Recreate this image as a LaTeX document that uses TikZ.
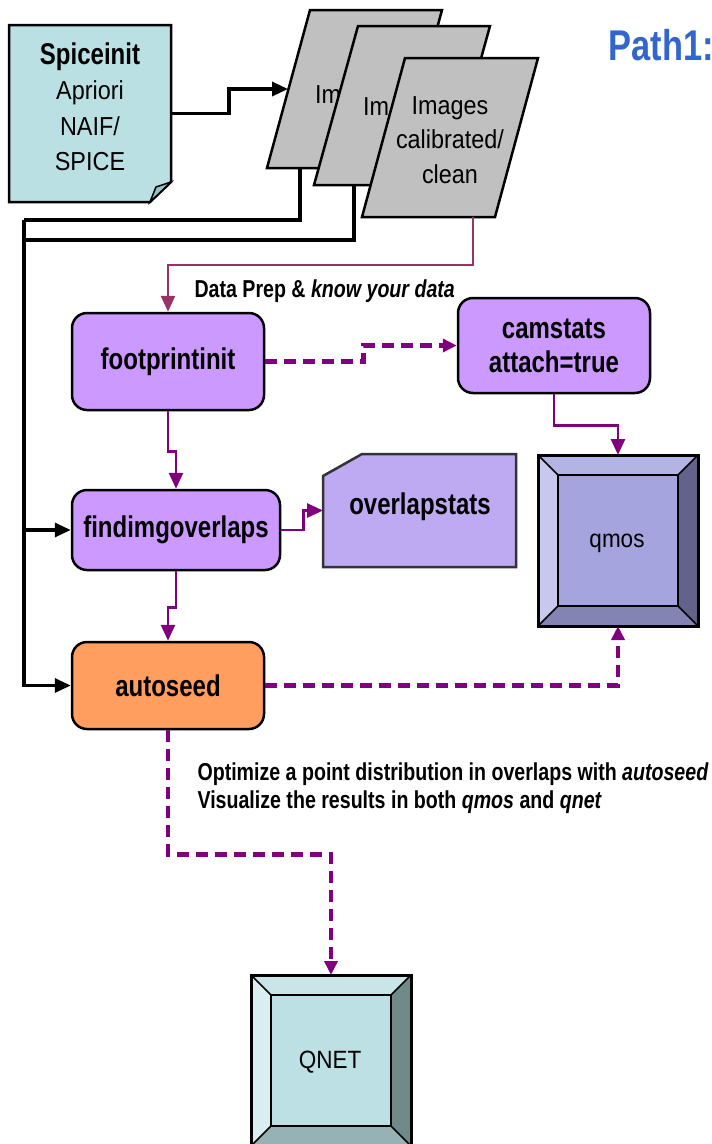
\documentclass[tikz,border=0pt]{standalone}
\usepackage{fontspec}
\setmainfont{Liberation Sans}[FakeStretch=0.9]
\newfontfamily\nb{Liberation Sans}[FakeStretch=0.8]
\usetikzlibrary{arrows.meta,calc}

\definecolor{procfill}{HTML}{CC99FF}
\definecolor{seedfill}{HTML}{FF9E5E}
\definecolor{docfill}{HTML}{BBE0E3}
\definecolor{docfold}{HTML}{96C4C8}
\definecolor{imgfill}{HTML}{C0C0C0}
\definecolor{statfill}{HTML}{BEA9F3}
\definecolor{flowpurple}{HTML}{800080}
\definecolor{flowmaroon}{HTML}{993366}
\definecolor{titleblue}{HTML}{3366CC}
\definecolor{qmosT}{HTML}{B4B4E4}
\definecolor{qmosL}{HTML}{C8C8EC}
\definecolor{qmosR}{HTML}{62628A}
\definecolor{qmosB}{HTML}{8484B4}
\definecolor{qmosF}{HTML}{A5A4DE}
\definecolor{qnetT}{HTML}{C9E5E8}
\definecolor{qnetL}{HTML}{D9EEF0}
\definecolor{qnetR}{HTML}{708A8A}
\definecolor{qnetB}{HTML}{96B2B4}
\definecolor{qnetF}{HTML}{BCE0E4}

% bevelled button: node name, inset, top, left, right, bottom, face colours
\newcommand\bevelbox[7]{%
  \path (#1.north west) coordinate (#1-otl) (#1.north east) coordinate (#1-otr)
        (#1.south east) coordinate (#1-obr) (#1.south west) coordinate (#1-obl);
  \path ($(#1.north west)+(#2,#2)$) coordinate (#1-itl)
        ($(#1.north east)+(-#2,#2)$) coordinate (#1-itr)
        ($(#1.south east)+(-#2,-#2)$) coordinate (#1-ibr)
        ($(#1.south west)+(#2,-#2)$) coordinate (#1-ibl);
  \fill[#3] (#1-otl) -- (#1-otr) -- (#1-itr) -- (#1-itl) -- cycle;
  \fill[#4] (#1-otl) -- (#1-itl) -- (#1-ibl) -- (#1-obl) -- cycle;
  \fill[#5] (#1-otr) -- (#1-obr) -- (#1-ibr) -- (#1-itr) -- cycle;
  \fill[#6] (#1-obl) -- (#1-ibl) -- (#1-ibr) -- (#1-obr) -- cycle;
  \fill[#7] (#1-itl) rectangle (#1-ibr);
  \draw[line width=2pt] (#1-itl) rectangle (#1-ibr);
  \draw[line width=1.5pt] (#1-otl) -- (#1-itl) (#1-otr) -- (#1-itr)
        (#1-obr) -- (#1-ibr) (#1-obl) -- (#1-ibl);
  \draw[line width=3pt] (#1-otl) rectangle (#1-obr);
}

\begin{document}
\begin{tikzpicture}[x=1pt,y=-1pt,
  lbl/.style={font=\nb\bfseries\fontsize{30}{34}\selectfont, align=center},
  proc/.style={lbl, draw=black, line width=2.5pt, rounded corners=15pt,
               fill=procfill, inner sep=0pt},
  anchorbox/.style={inner sep=0pt, outer sep=0pt},
  imgshape/.style={draw=black, line width=2.5pt, fill=imgfill},
  plain/.style={font=\fontsize{26}{34.5}\selectfont, align=center},
  note/.style={font=\nb\bfseries\fontsize{24.5}{28}\selectfont, align=left, anchor=west},
  tip/.style={-{Triangle[length=16pt,width=14pt]}},
  blk/.style={line width=3.3pt, draw=black, tip},
  pflow/.style={line width=2.7pt, draw=flowpurple, tip},
  mflow/.style={line width=2.7pt, draw=flowmaroon, tip},
  pdash/.style={line width=4.5pt, draw=flowpurple, dash pattern=on 12pt off 7pt,
                -{Triangle[length=14pt,width=13pt]}}]

\useasboundingbox (0,0) rectangle (712,1144);

% title
\node[anchor=west, text=titleblue, font=\nb\bfseries\fontsize{43}{46}\selectfont]
  (title) at (605,45) {Path1:};

% Spiceinit document with turned corner
\draw[line width=2.5pt, fill=docfill] (9,25) -- (171,25) -- (171,182) -- (150,202) -- (9,202) -- cycle;
\draw[line width=1.5pt, fill=docfold] (150,202) .. controls (153,194) .. (156,187) -- (171,182) -- cycle;
\node[anchorbox, minimum width=162pt, minimum height=177pt] (spice) at (90,113.5) {};
\node[plain, font=\fontsize{26}{35.5}\selectfont] (spicetext) at (90,107)
  {{\nb\bfseries\fontsize{30}{35.5}\selectfont Spiceinit}\\Apriori\\NAIF/\\SPICE};

% stacked image sets; the back sheets show only the start of their label
\draw[imgshape] (267,168) -- (310,10) -- (442,10) -- (399,168) -- cycle;
\begin{scope}
  \clip (262,172) -- (307,4) -- (362,4) -- (314,185) -- cycle;
  \node[plain, anchor=west, inner sep=0pt] (imgA) at (315,95) {Im};
\end{scope}
\coordinate (imgAin) at (288,89);
\coordinate (imgAout) at (300,168);
\draw[imgshape] (314,185) -- (358,26) -- (490,26) -- (446,185) -- cycle;
\begin{scope}
  \clip (309,190) -- (354,20) -- (411,20) -- (362,217) -- cycle;
  \node[plain, anchor=west, inner sep=0pt] (imgB) at (363,107) {Im};
\end{scope}
\coordinate (imgBout) at (354,185);
\draw[imgshape] (362,217) -- (405,58) -- (538,58) -- (495,217) -- cycle;
\node[plain] (imgC) at (450,140) {Images\\calibrated/\\clean};
\coordinate (imgCout) at (473,217);

% processing steps
\node[proc, minimum width=192pt, minimum height=97pt] (foot) at (168,361.5) {footprintinit};
\node[proc, minimum width=192pt, minimum height=95pt] (cam) at (554,345.5) {camstats\\attach=true};
\node[proc, minimum width=208pt, minimum height=80pt] (find) at (176,530) {findimgoverlaps};
\node[proc, fill=seedfill, minimum width=192pt, minimum height=87pt] (auto) at (168,685.5) {autoseed};

% overlapstats report
\draw[line width=2.5pt, draw=black!80, fill=statfill]
  (323,476) -- (362,454) -- (516,454) -- (516,567) -- (323,567) -- cycle;
\node[anchorbox, minimum width=193pt, minimum height=113pt] (ovl) at (419.5,510.5) {};
\node[lbl] (ovltext) at (420,507) {overlapstats};

% viewers
\node[anchorbox, minimum width=160pt, minimum height=171pt] (qmos) at (618,540.5) {};
\bevelbox{qmos}{20}{qmosT}{qmosL}{qmosR}{qmosB}{qmosF}
\node[font=\fontsize{25}{28}\selectfont] (qmostext) at (617,543) {qmos};

\node[anchorbox, minimum width=160pt, minimum height=171pt] (qnet) at (331,1060.5) {};
\bevelbox{qnet}{20}{qnetT}{qnetL}{qnetR}{qnetB}{qnetF}
\node[font=\fontsize{25}{28}\selectfont] (qnettext) at (330,1062) {QNET};

% notes
\node[note] (prep) at (191,291) {Data Prep \& {\itshape know your data}};
\node[note] (optim) at (194,788)
  {Optimize a point distribution in overlaps with {\itshape autoseed}\\
   Visualize the results in both {\itshape qmos} and {\itshape qnet}};

% black connectors: SPICE and image inputs
\coordinate (jA) at (24,220);
\coordinate (jB) at (24,240);
\draw[blk] (spice.east) -- ++(58,0) |- (imgAin);
\draw[line width=3.3pt] (imgAout) |- (jA);
\draw[line width=3.3pt] (imgBout) |- (jB);
\draw[blk] (jA) |- (auto.west);
\draw[blk] (jB) |- (find.west);

% processing flow
\draw[mflow] (imgCout) -- ++(0,48) -| (foot.north);
\draw[pflow] (foot.south) -- ++(0,40) -| (find.north);
\draw[pflow] (find.south) -- ++(0,36) -| (auto.north);
\draw[pflow] (find.east) -- ++(22,0) |- (ovl.west);
\draw[pflow] (cam.south) -- ++(0,31) -| (qmos.north);
\draw[pdash] (foot.east) -- ++(98,0) |- (cam.west);
\draw[pdash] (auto.east) -| (qmos.south);
\draw[pdash] (auto.south) -- ++(0,124) -| (qnet.north);

\end{tikzpicture}
\end{document}
